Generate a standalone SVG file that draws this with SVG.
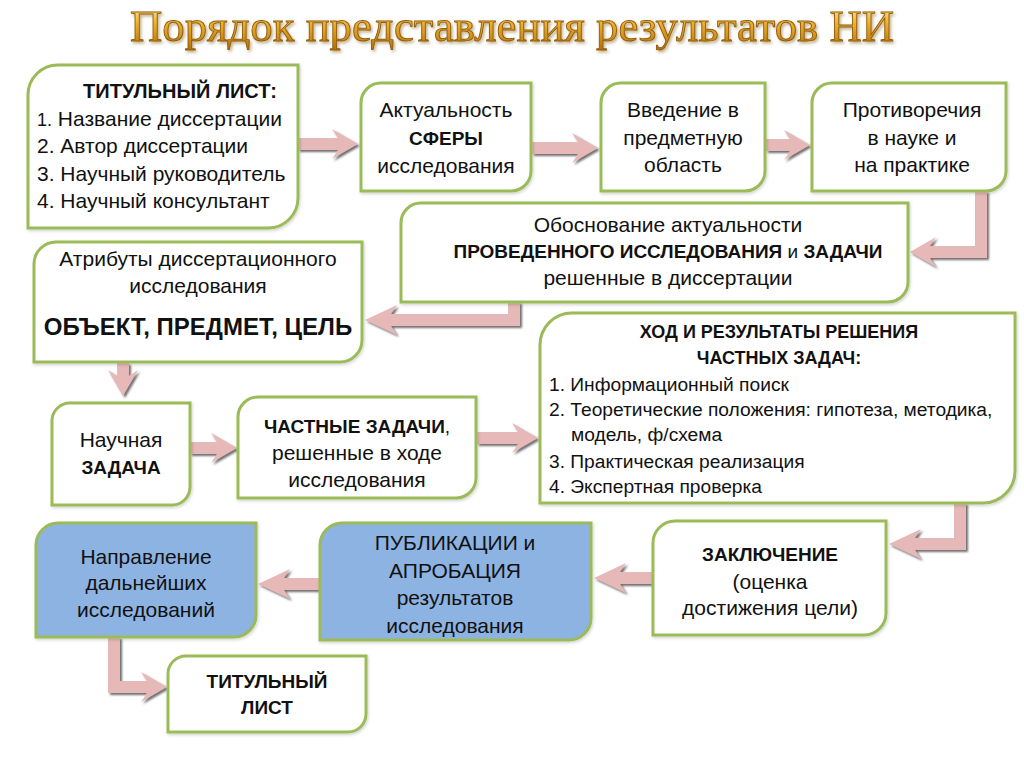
<svg xmlns="http://www.w3.org/2000/svg" width="1024" height="767" viewBox="0 0 1024 767">
<defs>
<linearGradient id="gold" x1="0" y1="0" x2="0" y2="1">
<stop offset="0" stop-color="#fff0a0"/>
<stop offset="0.45" stop-color="#eeb02a"/>
<stop offset="1" stop-color="#b06c06"/>
</linearGradient>
<filter id="tsh" x="-5%" y="-20%" width="110%" height="150%">
<feDropShadow dx="1.5" dy="2" stdDeviation="1.5" flood-color="#6b4a10" flood-opacity="0.45"/>
</filter>
<filter id="ash" x="-10%" y="-10%" width="130%" height="130%">
<feDropShadow dx="2" dy="2" stdDeviation="0.8" flood-color="#555" flood-opacity="0.85"/>
</filter>
<filter id="bsh" x="-5%" y="-5%" width="110%" height="115%">
<feDropShadow dx="1" dy="1.5" stdDeviation="1.5" flood-color="#000" flood-opacity="0.18"/>
</filter>
</defs>
<style>
.box{fill:#ffffff;stroke:#9bbb59;stroke-width:3;filter:url(#bsh)}
.blue{fill:#8db3e2}
.t{font-family:"Liberation Sans",Arial,sans-serif;font-size:21px;fill:#111}
.c{text-anchor:middle}
.b{font-weight:bold;font-size:19px}
.arr{fill:#e6b9b8;filter:url(#ash)}
.title{font-family:"Liberation Serif","Times New Roman",serif;font-size:44px;fill:url(#gold);stroke:#935c0c;stroke-width:0.9;filter:url(#tsh)}
</style>
<rect width="1024" height="767" fill="#ffffff"/>
<text class="title" x="512" y="41" text-anchor="middle" textLength="764" lengthAdjust="spacingAndGlyphs">Порядок представления результатов НИ</text>

<g id="connectors">
<path class="arr" d="M298,138 H338 L332,129 L358,144 L332,159 L338,150 H298 Z"/>
<path class="arr" d="M532,142 H578 L572,133 L598,148 L572,163 L578,154 H532 Z"/>
<path class="arr" d="M766,139 H790 L784,130 L810,145 L784,160 L790,151 H766 Z"/>
<path class="arr" d="M975,191 H987 V258 H930 L936,267 L910,252 L936,237 L930,246 H975 Z"/>
<path class="arr" d="M508,302 H520 V326 H391 L397,335 L365,320 L397,305 L391,314 H508 Z"/>
<path class="arr" d="M117,363 V376 L108,370 L123,396 L138,370 L129,376 V363 Z"/>
<path class="arr" d="M190,442 H217 L211,433 L237,448 L211,463 L217,454 H190 Z"/>
<path class="arr" d="M477,432 H518 L512,423 L538,438 L512,453 L518,444 H477 Z"/>
<path class="arr" d="M954,503 H966 V550 H915 L921,559 L889,544 L921,529 L915,538 H954 Z"/>
<path class="arr" d="M653,572 H620 L626,563 L594,578 L626,593 L620,584 H653 Z"/>
<path class="arr" d="M320,578 H284 L290,569 L258,584 L290,599 L284,590 H320 Z"/>
<path class="arr" d="M108,637 H120 V681 H147 L141,672 L167,687 L141,702 L147,693 H108 Z"/>
</g>

<g id="n1">
<path class="box" d="M58,65 H298 V198 A30,30 0 0 1 268,228 H28 V95 A30,30 0 0 1 58,65 Z"/>
<text class="t c b" x="180" y="98" style="font-size:20px">ТИТУЛЬНЫЙ ЛИСТ:</text>
<text class="t" x="37" y="126"><tspan style="font-size:18px">1.</tspan> Название диссертации</text>
<text class="t" x="37" y="153">2. Автор диссертации</text>
<text class="t" x="37" y="181">3. Научный руководитель</text>
<text class="t" x="37" y="208">4. Научный консультант</text>
</g>

<g id="n2">
<path class="box" d="M381,83 H531 V171 A20,20 0 0 1 511,191 H361 V103 A20,20 0 0 1 381,83 Z"/>
<text class="t c" x="446" y="117">Актуальность</text>
<text class="t c b" x="446" y="145">СФЕРЫ</text>
<text class="t c" x="446" y="173">исследования</text>
</g>

<g id="n3">
<path class="box" d="M621,83 H765 V171 A20,20 0 0 1 745,191 H601 V103 A20,20 0 0 1 621,83 Z"/>
<text class="t c" x="683" y="117">Введение в</text>
<text class="t c" x="683" y="145">предметную</text>
<text class="t c" x="683" y="172">область</text>
</g>

<g id="n4">
<path class="box" d="M832,83 H1006 V171 A20,20 0 0 1 986,191 H812 V103 A20,20 0 0 1 832,83 Z"/>
<text class="t c" x="912" y="117">Противоречия</text>
<text class="t c" x="912" y="145">в науке и</text>
<text class="t c" x="912" y="172">на практике</text>
</g>

<g id="n5">
<path class="box" d="M421,203 H908 V282 A20,20 0 0 1 888,302 H401 V223 A20,20 0 0 1 421,203 Z"/>
<text class="t c" x="668" y="232">Обоснование актуальности</text>
<text class="t c" x="668" y="258" style="font-size:19px"><tspan class="b">ПРОВЕДЕННОГО ИССЛЕДОВАНИЯ</tspan> и <tspan class="b">ЗАДАЧИ</tspan></text>
<text class="t c" x="668" y="285">решенные в диссертации</text>
</g>

<g id="n6">
<path class="box" d="M56,242 H362 V340 A22,22 0 0 1 340,362 H34 V264 A22,22 0 0 1 56,242 Z"/>
<text class="t c" x="198" y="266">Атрибуты диссертационного</text>
<text class="t c" x="198" y="293">исследования</text>
<text class="t c b" x="198" y="335" style="font-size:24px">ОБЪЕКТ, ПРЕДМЕТ, ЦЕЛЬ</text>
</g>

<g id="n7">
<path class="box" d="M572,313 H1015 V471 A32,32 0 0 1 983,503 H540 V345 A32,32 0 0 1 572,313 Z"/>
<text class="t c b" x="779" y="338" style="font-size:18px">ХОД И РЕЗУЛЬТАТЫ РЕШЕНИЯ</text>
<text class="t c b" x="779" y="364" style="font-size:18px">ЧАСТНЫХ ЗАДАЧ:</text>
<text class="t" x="549" y="391" style="font-size:19.2px">1. Информационный поиск</text>
<text class="t" x="549" y="416" style="font-size:19.2px">2. Теоретические положения: гипотеза, методика,</text>
<text class="t" x="571" y="441" style="font-size:19.2px">модель, ф/схема</text>
<text class="t" x="549" y="468" style="font-size:19.2px">3. Практическая реализация</text>
<text class="t" x="549" y="493" style="font-size:19.2px">4. Экспертная проверка</text>
</g>

<g id="n8">
<path class="box" d="M70,403 H190 V487 A18,18 0 0 1 172,505 H52 V421 A18,18 0 0 1 70,403 Z"/>
<text class="t c" x="121" y="447">Научная</text>
<text class="t c b" x="121" y="474">ЗАДАЧА</text>
</g>

<g id="n9">
<path class="box" d="M258,397 H476 V478 A20,20 0 0 1 456,498 H238 V417 A20,20 0 0 1 258,397 Z"/>
<text class="t c" x="357" y="433" style="font-size:19px"><tspan class="b">ЧАСТНЫЕ ЗАДАЧИ</tspan>,</text>
<text class="t c" x="357" y="460">решенные в ходе</text>
<text class="t c" x="357" y="487">исследования</text>
</g>

<g id="n10">
<path class="box blue" d="M58,523 H256 V615 A22,22 0 0 1 234,637 H36 V545 A22,22 0 0 1 58,523 Z"/>
<text class="t c" x="146" y="564">Направление</text>
<text class="t c" x="146" y="590">дальнейших</text>
<text class="t c" x="146" y="617">исследований</text>
</g>

<g id="n11">
<path class="box blue" d="M342,523 H591 V618 A22,22 0 0 1 569,640 H320 V545 A22,22 0 0 1 342,523 Z"/>
<text class="t c" x="455" y="550">ПУБЛИКАЦИИ и</text>
<text class="t c" x="455" y="578">АПРОБАЦИЯ</text>
<text class="t c" x="455" y="605">результатов</text>
<text class="t c" x="455" y="633">исследования</text>
</g>

<g id="n12">
<path class="box" d="M675,521 H886 V613 A22,22 0 0 1 864,635 H653 V543 A22,22 0 0 1 675,521 Z"/>
<text class="t c b" x="770" y="561">ЗАКЛЮЧЕНИЕ</text>
<text class="t c" x="770" y="589">(оценка</text>
<text class="t c" x="770" y="615">достижения цели)</text>
</g>

<g id="n13">
<path class="box" d="M186,656 H366 V714 A18,18 0 0 1 348,732 H168 V674 A18,18 0 0 1 186,656 Z"/>
<text class="t c b" x="267" y="688">ТИТУЛЬНЫЙ</text>
<text class="t c b" x="267" y="714">ЛИСТ</text>
</g>
</svg>
